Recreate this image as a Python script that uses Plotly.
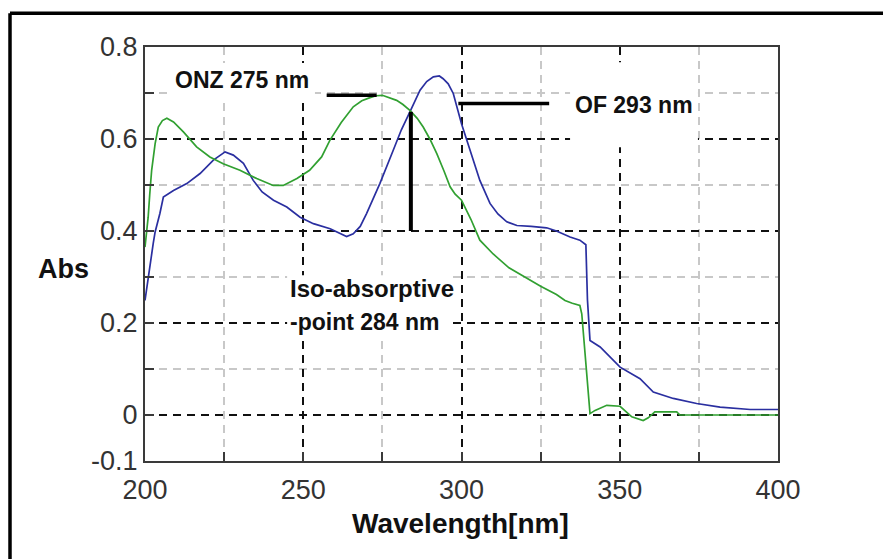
import plotly.graph_objects as go

# ONZ spectrum (green)
onz_nm = [200, 200.6, 201, 201.5, 202.1, 203.2, 204.2, 205.5, 206.9, 209, 212.2, 216.3,
          220.5, 224.7, 230, 235.3, 240.5, 243.7, 248, 252, 255.8, 258.4, 262, 265.8,
          268.5, 271.1, 273, 275, 276.4, 279.5, 281.5, 283.7, 286, 287.9, 290, 292.2,
          294.5, 296.4, 298, 300, 303, 305.8, 310, 315, 320, 325, 330, 332.7, 335,
          337.4, 338, 339, 340.6, 342.2, 345.9, 350.1, 352, 353.8, 357.4, 359, 361.1,
          368, 369, 400]
onz_abs = [0.365, 0.40, 0.43, 0.48, 0.532, 0.59, 0.626, 0.640, 0.645, 0.637, 0.615, 0.583,
           0.561, 0.546, 0.532, 0.514, 0.499, 0.499, 0.514, 0.532, 0.561, 0.597, 0.636, 0.670,
           0.683, 0.690, 0.694, 0.695, 0.692, 0.684, 0.675, 0.662, 0.645, 0.626, 0.600, 0.568,
           0.530, 0.496, 0.480, 0.467, 0.425, 0.380, 0.350, 0.320, 0.300, 0.280, 0.262, 0.249, 0.243,
           0.238, 0.220, 0.140, 0.003, 0.010, 0.021, 0.019, 0.008, -0.004, -0.012, -0.006, 0.007,
           0.007, 0.0, 0.0]

# OF spectrum (blue)
of_nm = [200, 200.5, 201.6, 202.6, 203.2, 204.7, 205.8, 209, 213.2, 217.4, 221.6, 225.3,
         227.9, 231.1, 234.2, 237, 240.6, 244.8, 249, 253.2, 258.5, 261.5, 263.7, 265.8,
         268, 270, 274.2, 278.4, 281, 283.7, 286.9, 289, 291.1, 293, 294.2, 295.8, 297.4,
         300, 302.7, 305.8, 309, 311.5, 314.3, 317.5, 322, 326.9, 330, 334.3, 337.4, 339.3,
         339.8, 340.6, 343.8, 350.1, 356.4, 360.6, 366.9, 374.3, 381.7, 391.2, 400]
of_abs = [0.249, 0.275, 0.322, 0.373, 0.398, 0.438, 0.474, 0.488, 0.503, 0.525, 0.554, 0.572,
          0.565, 0.547, 0.510, 0.485, 0.467, 0.452, 0.430, 0.416, 0.405, 0.395, 0.388, 0.394,
          0.410, 0.438, 0.503, 0.575, 0.620, 0.659, 0.706, 0.725, 0.735, 0.737, 0.731, 0.720, 0.699,
          0.633, 0.575, 0.510, 0.460, 0.437, 0.420, 0.412, 0.410, 0.407, 0.400, 0.387, 0.380, 0.370,
          0.250, 0.162, 0.148, 0.104, 0.079, 0.050, 0.036, 0.025, 0.017, 0.012, 0.012]

# axis ticks
x_major = [200, 250, 300, 350, 400]
x_minor = [225, 275, 325, 375]
y_major = [-0.1, 0, 0.2, 0.4, 0.6, 0.8]
y_major_text = ["-0.1", "0", "0.2", "0.4", "0.6", "0.8"]
y_minor = [0.1, 0.3, 0.5, 0.7]

# marked wavelengths
onz_peak_nm = 275
of_peak_nm = 293
iso_nm = 284

TICK_FONT = dict(family="Liberation Sans", size=27, color="#333333")
BOLD = "Liberation Sans"
AXIS_COL = "#3a3a3a"
DASH = "8px,6px"

fig = go.Figure()
fig.add_trace(go.Scatter(x=of_nm, y=of_abs, mode="lines", name="OF",
                         line=dict(color="#2a2fa0", width=1.7)))
fig.add_trace(go.Scatter(x=onz_nm, y=onz_abs, mode="lines", name="ONZ",
                         line=dict(color="#31a031", width=1.7)))

axis_common = dict(
    showline=True, linecolor=AXIS_COL, linewidth=2, mirror=True,
    ticks="inside", ticklen=9, tickwidth=2, tickcolor=AXIS_COL,
    showgrid=True, gridcolor="#111111", gridwidth=2, griddash=DASH,
    zeroline=False, tickfont=TICK_FONT,
)

fig.update_xaxes(
    range=[200, 400], tickmode="array", tickvals=x_major,
    ticklabelstandoff=4,
    minor=dict(tickmode="array", tickvals=x_minor, ticks="inside", ticklen=9,
               tickwidth=2, tickcolor=AXIS_COL, showgrid=True,
               gridcolor="#c8c8c8", gridwidth=2, griddash=DASH),
    **axis_common,
)
fig.update_yaxes(
    range=[-0.1, 0.8], tickmode="array", tickvals=y_major, ticktext=y_major_text,
    ticklabelstandoff=0,
    minor=dict(tickmode="array", tickvals=y_minor, ticks="inside", ticklen=9,
               tickwidth=2, tickcolor=AXIS_COL, showgrid=True,
               gridcolor="#c8c8c8", gridwidth=2, griddash=DASH),
    **axis_common,
)

shapes = []
# white label boxes hiding the grid behind the text
for x0, x1, y0, y1 in [(207.3, 253.7, 0.688, 0.765),
                       (334.3, 374.7, 0.582, 0.767),
                       (244.9, 297.2, 0.162, 0.304)]:
    shapes.append(dict(type="rect", xref="x", yref="y", x0=x0, x1=x1, y0=y0, y1=y1,
                       fillcolor="white", line=dict(width=0), layer="above"))
# marker lines for the two maxima and the iso-absorptive point
shapes.append(dict(type="line", xref="x", yref="y", x0=257.4, x1=onz_peak_nm - 1.8,
                   y0=0.695, y1=0.695, line=dict(color="black", width=3.5)))
shapes.append(dict(type="line", xref="x", yref="y", x0=299.0, x1=327.7,
                   y0=0.677, y1=0.677, line=dict(color="black", width=3.5)))
shapes.append(dict(type="line", xref="x", yref="y", x0=iso_nm, x1=iso_nm,
                   y0=0.4, y1=0.659, line=dict(color="black", width=4)))
# outer frame
fx = (10 - 145) / 633
fy = (460.7 - 13) / 414
shapes.append(dict(type="line", xref="paper", yref="paper", x0=fx, x1=fx, y0=-1, y1=fy,
                   line=dict(color="black", width=3.5)))
shapes.append(dict(type="line", xref="paper", yref="paper", x0=fx, x1=2, y0=fy, y1=fy,
                   line=dict(color="black", width=3.5)))

ann_font = dict(family=BOLD, size=23, color="#111111")
annotations = [
    dict(x=230.5, y=0.728, xref="x", yref="y", text="<b>ONZ 275 nm</b>",
         showarrow=False, font=ann_font),
    dict(x=354.5, y=0.673, xref="x", yref="y", text="<b>OF 293 nm</b>",
         showarrow=False, font=ann_font),
    dict(x=245.3, y=0.2755, xref="x", yref="y", text="<b>Iso-absorptive</b>",
         showarrow=False, font=dict(family=BOLD, size=24, color="#111111"), xanchor="left"),
    dict(x=245.3, y=0.2015, xref="x", yref="y", text="<b>-point 284 nm</b>",
         showarrow=False, font=ann_font, xanchor="left"),
    dict(x=(63 - 145) / 633, y=(460.7 - 269) / 414, xref="paper", yref="paper",
         xanchor="center", yanchor="middle",
         text="<b>Abs</b>", showarrow=False,
         font=dict(family=BOLD, size=27, color="#111111")),
    dict(x=(460 - 145) / 633, y=(460.7 - 523) / 414, xref="paper", yref="paper",
         xanchor="center", yanchor="middle",
         text="<b>Wavelength[nm]</b>", showarrow=False,
         font=dict(family=BOLD, size=28, color="#111111")),
]

fig.update_layout(
    width=883, height=559,
    margin=dict(l=145, r=105, t=47, b=98, autoexpand=False),
    paper_bgcolor="white", plot_bgcolor="white",
    showlegend=False,
    shapes=shapes, annotations=annotations,
)

fig.write_html("out.html")
